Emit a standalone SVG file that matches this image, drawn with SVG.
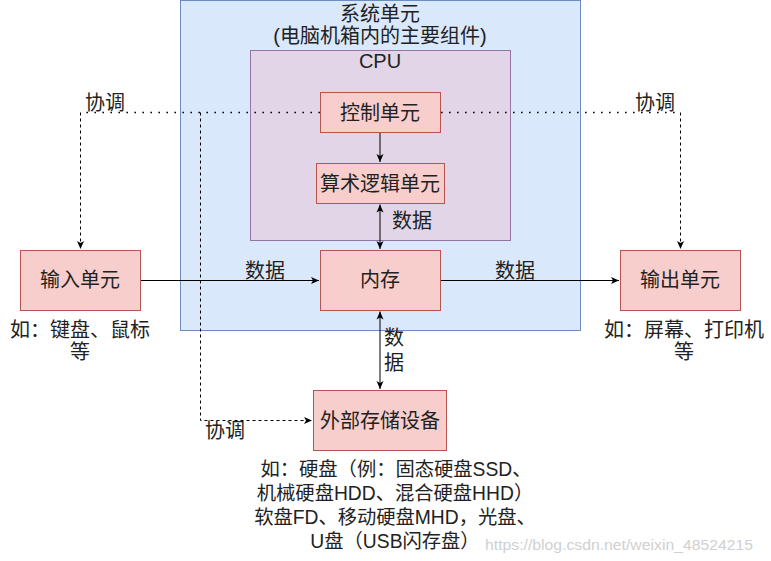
<svg xmlns="http://www.w3.org/2000/svg" width="771" height="561" viewBox="0 0 771 561">
<style>
text{font-family:"Liberation Sans","Noto Sans CJK SC",sans-serif;font-size:20px;fill:#222;text-anchor:middle}
.note{font-size:19.3px}
.node{fill:#f8cecc;stroke:#b85450;stroke-width:1}
.sys{fill:#dae8fc;stroke:#6c8ebf;stroke-width:1}
.cpu{fill:#e1d5e7;stroke:#9673a6;stroke-width:1}
.solid{fill:none;stroke:#000;stroke-width:1}
.dot{fill:none;stroke:#000;stroke-width:1.6;stroke-dasharray:1.6 6.4}
.dash{fill:none;stroke:#000;stroke-width:1;stroke-dasharray:3 3}
.wm{font-size:15px;fill:#d0d0d0;text-anchor:start}
</style>
<defs>
<marker id="arr" markerUnits="userSpaceOnUse" markerWidth="10" markerHeight="10" refX="8" refY="4" orient="auto-start-reverse" viewBox="0 0 10 8">
<path d="M0,0.5 L8,4 L0,7.5 L2,4 z" fill="#000"/>
</marker>
</defs>
<g id="system-unit">
<rect class="sys" x="180.5" y="0.5" width="400" height="330"/>
<text x="380" y="21">系统单元</text>
<text x="380" y="43">(电脑机箱内的主要组件)</text>
</g>
<g id="cpu">
<rect class="cpu" x="250.5" y="50.5" width="260" height="190"/>
<text x="380" y="68">CPU</text>
</g>
<g id="connectors">
<path class="solid" d="M380,132.5 V162" marker-end="url(#arr)"/>
<path class="solid" d="M380,204.5 V249" marker-start="url(#arr)" marker-end="url(#arr)"/>
<path class="solid" d="M140.5,280.5 H319" marker-end="url(#arr)"/>
<path class="solid" d="M440.5,280.5 H619" marker-end="url(#arr)"/>
<path class="solid" d="M380,311.5 V389" marker-start="url(#arr)" marker-end="url(#arr)"/>
<path class="dot" d="M320,112.5 H80.5"/>
<path class="dash" d="M80.5,112.5 V249" marker-end="url(#arr)"/>
<path class="dash" d="M200.5,112.5 V420.5 H312" marker-end="url(#arr)"/>
<path class="dot" d="M441,112.5 H680.5"/>
<path class="dash" d="M680.5,112.5 V249" marker-end="url(#arr)"/>
<text x="412" y="228">数据</text>
<text x="265" y="278">数据</text>
<text x="515" y="278">数据</text>
<text x="394" y="345">数</text>
<text x="394" y="370">据</text>
<text x="105" y="110">协调</text>
<text x="655" y="110">协调</text>
<text x="225" y="438">协调</text>
</g>
<g id="control-unit">
<rect class="node" x="320.5" y="92.5" width="120" height="40"/>
<text x="380" y="119.5">控制单元</text>
</g>
<g id="alu">
<rect class="node" x="316.5" y="163.5" width="128" height="40"/>
<text x="380" y="190.5">算术逻辑单元</text>
</g>
<g id="memory">
<rect class="node" x="320.5" y="250.5" width="120" height="60"/>
<text x="380" y="287">内存</text>
</g>
<g id="input-unit">
<rect class="node" x="20.5" y="250.5" width="120" height="60"/>
<text x="80" y="287">输入单元</text>
<text x="80" y="337">如：键盘、鼠标</text>
<text x="80" y="359">等</text>
</g>
<g id="output-unit">
<rect class="node" x="620.5" y="250.5" width="120" height="60"/>
<text x="680" y="287">输出单元</text>
<text x="684" y="337">如：屏幕、打印机</text>
<text x="684" y="359">等</text>
</g>
<g id="external-storage">
<rect class="node" x="313.5" y="390.5" width="133" height="60"/>
<text x="380" y="428">外部存储设备</text>
<text class="note" x="396" y="476">如：硬盘（例：固态硬盘SSD、</text>
<text class="note" x="395" y="500">机械硬盘HDD、混合硬盘HHD）</text>
<text class="note" x="395" y="524">软盘FD、移动硬盘MHD，光盘、</text>
<text class="note" x="395" y="548">U盘（USB闪存盘）</text>
</g>
<text class="wm" x="485" y="550" textLength="268" lengthAdjust="spacingAndGlyphs">https://blog.csdn.net/weixin_48524215</text>
</svg>
